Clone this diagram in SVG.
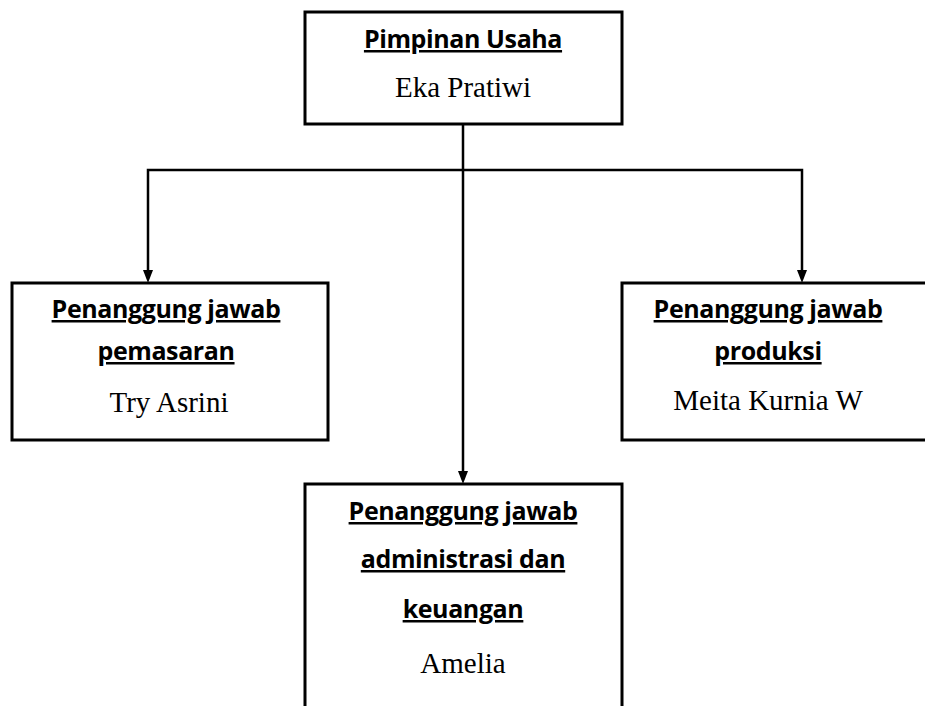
<svg xmlns="http://www.w3.org/2000/svg" width="925" height="706" viewBox="0 0 925 706">
<style>
.box{fill:#fff;stroke:#000;stroke-width:3}
.t{font-family:"Open Sans","Noto Sans","DejaVu Sans",sans-serif;font-weight:bold;font-size:25px;letter-spacing:-0.4px;text-anchor:middle;text-decoration:underline;fill:#000}
.n{font-family:"Liberation Serif","Times New Roman",serif;font-size:29px;text-anchor:middle;fill:#000}
.c{fill:none;stroke:#000;stroke-width:2.5}
.ah{fill:#000}
</style>
<rect width="925" height="706" fill="#fff"/>
<g id="connectors">
<polyline class="c" points="148,272 148,170 802,170 802,272"/>
<line class="c" x1="463" y1="124" x2="463" y2="473"/>
<path class="ah" d="M143,270 L153,270 L148,283 Z"/>
<path class="ah" d="M797,270 L807,270 L802,283 Z"/>
<path class="ah" d="M458,471 L468,471 L463,484 Z"/>
</g>
<g id="pimpinan">
<rect class="box" x="305" y="12" width="317" height="112"/>
<text class="t" x="463" y="48">Pimpinan Usaha</text>
<text class="n" x="463" y="97">Eka Pratiwi</text>
</g>
<g id="pemasaran">
<rect class="box" x="12" y="283" width="316" height="157"/>
<text class="t" x="166" y="318">Penanggung jawab</text>
<text class="t" x="166" y="360">pemasaran</text>
<text class="n" x="169" y="412">Try Asrini</text>
</g>
<g id="produksi">
<rect class="box" x="622" y="283" width="320" height="157"/>
<text class="t" x="768" y="318">Penanggung jawab</text>
<text class="t" x="768" y="360">produksi</text>
<text class="n" x="768" y="410">Meita Kurnia W</text>
</g>
<g id="administrasi">
<rect class="box" x="305" y="484" width="317" height="240"/>
<text class="t" x="463" y="520">Penanggung jawab</text>
<text class="t" x="463" y="568">administrasi dan</text>
<text class="t" x="463" y="618">keuangan</text>
<text class="n" x="463" y="673">Amelia</text>
</g>
</svg>
